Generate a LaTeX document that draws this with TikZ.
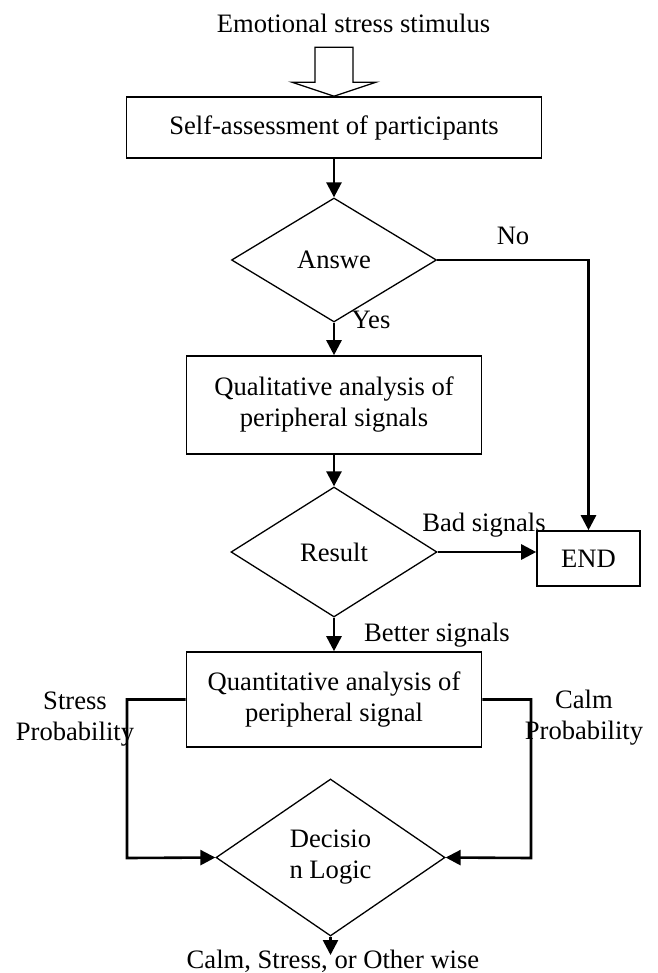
\documentclass[tikz,border=0pt]{standalone}
\usepackage{fontspec}
\setmainfont{Liberation Serif}
\usetikzlibrary{shapes.geometric,arrows.meta,positioning}
\tikzset{
  box/.style={draw=black, line width=1.6pt, inner sep=0pt, align=center},
  decision/.style={shape=diamond, draw=black, line width=1.3pt, inner sep=0pt, align=center},
  lbl/.style={inner sep=0pt, align=center},
  arr/.style={line width=2.6pt, -{Triangle[length=15pt,width=15pt]}},
  hollow/.style={draw=black, line width=1.3pt, line join=miter}
}
\begin{document}
\begin{tikzpicture}[x=1pt, y=-1pt, font=\fontsize{26.6}{31}\selectfont]
    \useasboundingbox (0,0) rectangle (657,973);
    \node[lbl, anchor=base] (stim) at (353.5,33) {Emotional stress stimulus};
    \node[box, minimum width=415pt, minimum height=61pt] (self) at (334,127.5) {Self-assessment of participants};
    \node[decision, minimum width=205pt, minimum height=124pt] (answer) at (334,260) {Answe};
    \node[box, minimum width=295pt, minimum height=98pt] (qual) at (334,405) {Qualitative analysis of\\peripheral signals};
    \node[decision, minimum width=206pt, minimum height=130pt] (result) at (334,552) {Result};
    \node[box, minimum width=103pt, minimum height=55pt] (fin) at (588.5,558.5) {END};
    \node[box, minimum width=295pt, minimum height=95pt] (quant) at (334,699.5) {Quantitative analysis of\\peripheral signal};
    \node[decision, minimum width=229pt, minimum height=157pt] (dec) at (330.5,857.5) {Decisio\\n Logic};
    \node[lbl, anchor=base] (out) at (333,968) {Calm, Stress, or Other wise};
    \node[lbl, anchor=base] (no) at (513,245) {No};
    \node[lbl, anchor=base] (yes) at (371,328) {Yes};
    \node[lbl, anchor=base] (bad) at (484,531) {Bad signals};
    \node[lbl, anchor=base] (better) at (437,641) {Better signals};
    \node[lbl] (stressp) at (75,719) {Stress\\Probability};
    \node[lbl] (calmp) at (584,718) {Calm\\Probability};
    \coordinate (lc) at (127,858);
    \coordinate (rc) at (531,858);
    \coordinate (outtip) at (330.5,955);
    \draw[hollow] (self.north) -- ++(-42,-14) -- ++(23,0) -- ++(0,-35) -- ++(38,0) -- ++(0,35) -- ++(23,0) -- cycle;
    \path [arr](self) edge (answer);
    \path [arr](answer) edge (qual);
    \path [arr](qual) edge (result);
    \path [arr](result) edge (quant);
    \path [arr](dec) edge (outtip);
    \draw [arr](answer.east) -| (fin.north);
    \draw [arr](result.east) -- (result.east -| fin.west);
    \draw [arr](quant.west) -| (lc) -- (dec.west);
    \draw [arr](quant.east) -| (rc) -- (dec.east);
\end{tikzpicture}
\end{document}
